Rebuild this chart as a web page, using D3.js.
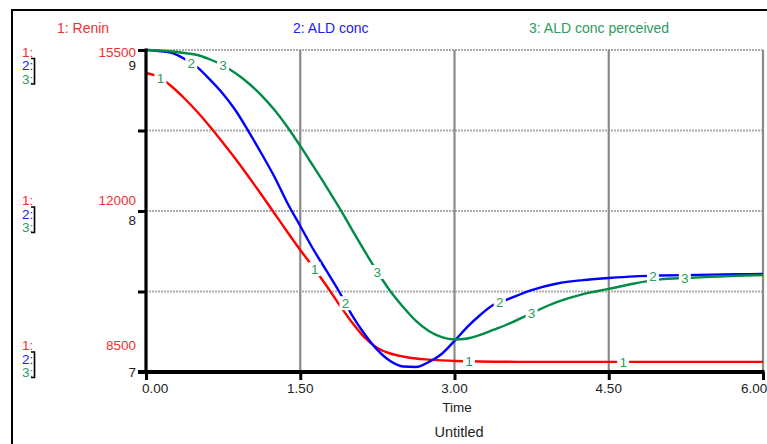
<!DOCTYPE html>
<html>
<head>
<meta charset="utf-8">
<script src="https://cdn.jsdelivr.net/npm/d3@7"></script>
<style>
  html, body { margin: 0; padding: 0; background: #fff; }
  svg { display: block; font-family: Arial, "Liberation Sans", sans-serif; }
</style>
</head>
<body>
<svg id="chart" width="767" height="444"></svg>
<script>
// ---- data ----
const time = [0, 0.125, 0.25, 0.375, 0.5, 0.625, 0.75, 0.875, 1.0, 1.125, 1.25, 1.375, 1.5,
  1.625, 1.75, 1.875, 2.0, 2.125, 2.25, 2.375, 2.5, 2.625, 2.75, 2.875, 3.0, 3.125, 3.25,
  3.375, 3.5, 3.75, 4.0, 4.25, 4.5, 4.75, 5.0, 5.25, 5.5, 5.75, 6.0];
const renin = [15000, 14913, 14707, 14446, 14152, 13826, 13478, 13120, 12739, 12348, 11946,
  11543, 11152, 10783, 10391, 9978, 9587, 9250, 9022, 8902, 8837, 8793, 8770, 8752, 8739,
  8733, 8728, 8724, 8722, 8720, 8720, 8720, 8720, 8720, 8720, 8720, 8720, 8720, 8720];
const aldConc = [9.0, 8.994, 8.983, 8.944, 8.892, 8.814, 8.727, 8.621, 8.491, 8.354, 8.211,
  8.050, 7.907, 7.764, 7.634, 7.503, 7.357, 7.236, 7.137, 7.068, 7.034, 7.031, 7.062, 7.112,
  7.193, 7.280, 7.354, 7.416, 7.447, 7.509, 7.550, 7.571, 7.584, 7.594, 7.599, 7.602, 7.605,
  7.607, 7.609];
const aldPerceived = [9.0, 8.997, 8.991, 8.981, 8.969, 8.941, 8.904, 8.854, 8.792, 8.717,
  8.627, 8.522, 8.404, 8.280, 8.155, 8.025, 7.888, 7.752, 7.621, 7.503, 7.404, 7.317, 7.255,
  7.217, 7.202, 7.208, 7.230, 7.261, 7.292, 7.366, 7.435, 7.484, 7.516, 7.550, 7.575, 7.584,
  7.591, 7.598, 7.602];

const seriesNames = ["1: Renin", "2: ALD conc", "3: ALD conc perceived"];
const seriesIds = ["1", "2", "3"];
const xTicks = [0, 1.5, 3, 4.5, 6];
const xTickLabels = ["0.00", "1.50", "3.00", "4.50", "6.00"];
const reninTicks = [15500, 12000, 8500];
const aldTicks = [9, 8, 7];
const reninMinorTicks = [8500, 10250, 12000, 13750, 15500];
const labelTimes1 = [0.14, 1.64, 3.14, 4.64];
const labelTimes2 = [0.44, 1.94, 3.44, 4.93];
const labelTimes3 = [0.75, 2.25, 3.75, 5.24];
const xTitle = "Time";
const chartTitle = "Untitled";

// ---- styles ----
const RED = "#ff0000", BLUE = "#0000ff", GREEN = "#008c46";
const RED_T = "#f03030", BLUE_T = "#2020f0", GREEN_T = "#2e9a5e";
const FS = 13.5;

const svg = d3.select("#chart");
const L = 146, R = 763, T = 50, B = 372;

const x = d3.scaleLinear().domain([0, 6]).range([L, R]);
const yRenin = d3.scaleLinear().domain([8500, 15500]).range([B, T]);
const yAld = d3.scaleLinear().domain([7, 9]).range([B, T]);

// outer frame
svg.append("rect").attr("x", 12).attr("y", 10).attr("width", 900).attr("height", 600)
  .attr("fill", "none").attr("stroke", "#000").attr("stroke-width", 2);

// gridlines
const grid = svg.append("g");
grid.selectAll("line.h").data(reninMinorTicks.filter(d => d !== 8500)).enter().append("line")
  .attr("x1", L).attr("x2", R)
  .attr("y1", d => yRenin(d)).attr("y2", d => yRenin(d))
  .attr("stroke", "#ababab").attr("stroke-width", 2).attr("stroke-dasharray", "2,1");
grid.selectAll("line.v").data(xTicks.filter(d => d > 0)).enter().append("line")
  .attr("x1", d => x(d)).attr("x2", d => x(d))
  .attr("y1", T).attr("y2", B)
  .attr("stroke", "#8a8a8a").attr("stroke-width", 2.2);

// lines
const line = (ys, arr) => d3.line()
  .x((d, i) => x(time[i]))
  .y(d => ys(d))
  .curve(d3.curveMonotoneX)(arr);

const series = [
  { vals: renin, ys: yRenin, color: RED, labels: labelTimes1, id: seriesIds[0] },
  { vals: aldConc, ys: yAld, color: BLUE, labels: labelTimes2, id: seriesIds[1] },
  { vals: aldPerceived, ys: yAld, color: GREEN, labels: labelTimes3, id: seriesIds[2] }
];

series.forEach(s => {
  svg.append("path").attr("d", line(s.ys, s.vals))
    .attr("fill", "none").attr("stroke", s.color).attr("stroke-width", 2.4)
    .attr("stroke-linejoin", "round");
});

// curve labels (white background boxes)
function valueAt(vals, t) {
  const i = Math.max(1, d3.bisectLeft(time, t));
  const t0 = time[i - 1], t1 = time[i];
  const f = (t - t0) / (t1 - t0);
  return vals[i - 1] + f * (vals[i] - vals[i - 1]);
}
series.forEach(s => {
  s.labels.forEach(t => {
    const cx = x(t), cy = s.ys(valueAt(s.vals, t));
    svg.append("rect").attr("x", cx - 6).attr("y", cy - 7).attr("width", 12).attr("height", 14)
      .attr("fill", "#fff");
    svg.append("text").attr("x", cx).attr("y", cy + 5).attr("text-anchor", "middle")
      .attr("font-size", FS).attr("fill", GREEN_T).text(s.id);
  });
});

// axes
const axL = svg.append("g").attr("transform", `translate(${L},0)`)
  .call(d3.axisLeft(yRenin).tickValues(reninMinorTicks).tickSize(8).tickFormat(""));
axL.select(".domain").attr("stroke", "#000").attr("stroke-width", 3.2)
  .attr("d", `M0,${T - 1.5}V${B}`);
axL.selectAll(".tick line").attr("stroke", "#000").attr("stroke-width", 3);

const axB = svg.append("g").attr("transform", `translate(0,${B})`)
  .call(d3.axisBottom(x).tickValues(xTicks).tickSize(8).tickFormat(""));
axB.select(".domain").attr("stroke", "#000").attr("stroke-width", 4)
  .attr("d", `M${L - 8},0H${R + 1.5}`);
axB.selectAll(".tick line").attr("stroke", "#000").attr("stroke-width", 3);

// x tick labels
svg.selectAll("text.xt").data(xTicks).enter().append("text")
  .attr("x", (d, i) => i === 0 ? x(d) - 4 : (i === xTicks.length - 1 ? x(d) - 22 : x(d)))
  .attr("y", 393)
  .attr("text-anchor", (d, i) => i === 0 || i === xTicks.length - 1 ? "start" : "middle")
  .attr("font-size", FS).attr("fill", "#222")
  .text((d, i) => xTickLabels[i]);

svg.append("text").attr("x", 457).attr("y", 412).attr("text-anchor", "middle")
  .attr("font-size", FS).attr("fill", "#222").text(xTitle);
svg.append("text").attr("x", 459).attr("y", 437).attr("text-anchor", "middle")
  .attr("font-size", 14.5).attr("fill", "#222").text(chartTitle);

// header legend
const headX = [57, 293, 529];
const headCol = [RED_T, BLUE_T, GREEN_T];
seriesNames.forEach((n, i) => {
  svg.append("text").attr("x", headX[i]).attr("y", 33).attr("font-size", 14)
    .attr("fill", headCol[i]).attr("xml:space", "preserve").text(n);
});

// left scale groups
const groupBase = [56.5, 205, 350];
const aldBase = [70, 225, 377];
groupBase.forEach((b, g) => {
  ["1:", "2:", "3:"].forEach((lab, k) => {
    svg.append("text").attr("x", 22).attr("y", b + k * 13.5).attr("font-size", FS)
      .attr("fill", headCol[k]).text(lab);
  });
  const top = b + 13.5 - 11.5, bot = b + 27 + 0.5;
  svg.append("path").attr("d", `M31,${top}H34.5V${bot}H31`)
    .attr("fill", "none").attr("stroke", "#000").attr("stroke-width", 1.6);
  svg.append("text").attr("x", 136).attr("y", b).attr("text-anchor", "end")
    .attr("font-size", FS).attr("fill", RED_T).text(d3.format("d")(reninTicks[g]));
  svg.append("text").attr("x", 136).attr("y", aldBase[g]).attr("text-anchor", "end")
    .attr("font-size", FS).attr("fill", "#222").text(aldTicks[g]);
});
</script>
</body>
</html>
